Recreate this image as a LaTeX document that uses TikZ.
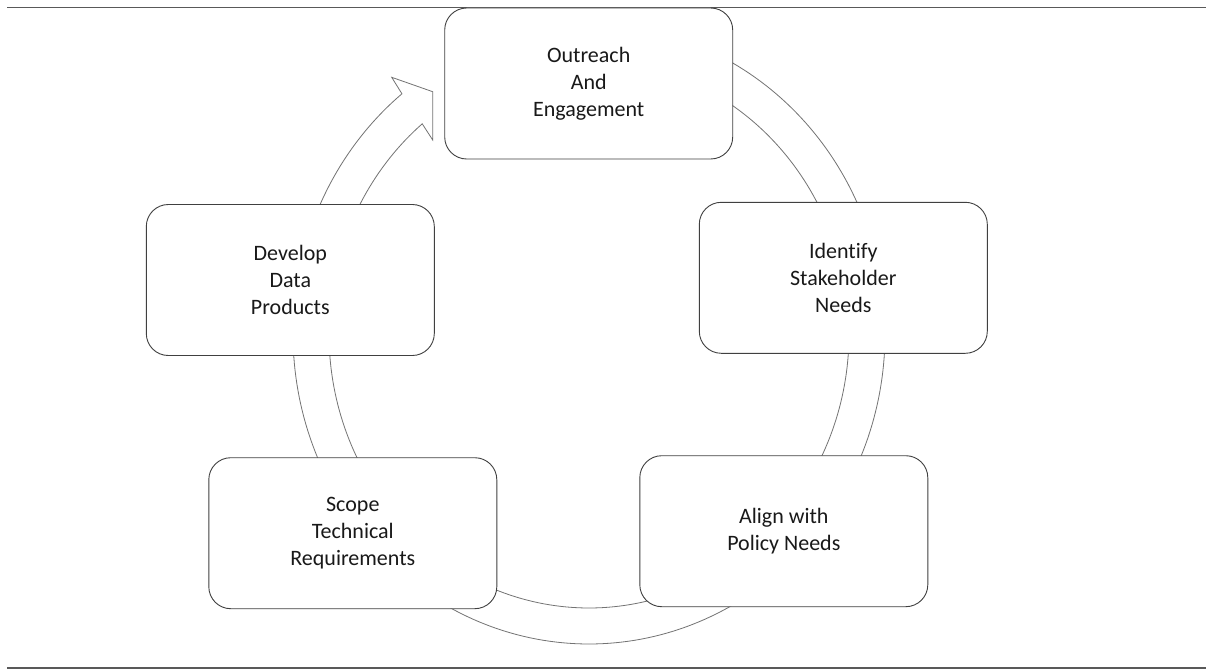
\documentclass[tikz,border=0pt]{standalone}
\usepackage{fontspec}
\setmainfont[Ligatures=NoCommon]{Carlito}
\begin{document}
\begin{tikzpicture}[x=1pt,y=-1pt,
  stage/.style={draw=black!75, line width=0.9pt, fill=white, rounded corners=22pt,
    minimum width=288pt, minimum height=151pt, inner sep=0pt, align=center,
    font=\fontsize{22}{27}\selectfont, text=black!90},
  band/.style={draw=black!55, line width=0.8pt, fill=white},
  rule/.style={draw=black!65, line width=1.4pt}]
\useasboundingbox (0,0) rectangle (1206,669);
% rules
\coordinate (tl) at (7,7.5);
\coordinate (tr) at (1206,7.5);
\coordinate (bl) at (7,668);
\coordinate (br) at (1206,668);
\draw[rule] (tl) -- (tr);
\draw[rule] (bl) -- (br);
% circular band arrow
\draw[band] plot[domain=75:-230.8, samples=240] ({589+296*cos(\x)},{334-310*sin(\x)})
  -- (391.7,77.3) -- (432.7,91.7) -- (432.7,140)
  -- plot[domain=-230.1:75, samples=240] ({589+260*cos(\x)},{334-274*sin(\x)}) -- cycle;
% stages
\node[stage] (outreach) at (588.7,83.5) {Outreach\\And\\Engagement};
\node[stage] (identify) at (843.3,277.8) {Identify\\Stakeholder\\Needs};
\node[stage] (align) at (783.8,531.2) {Align with\\Policy Needs};
\node[stage] (scope) at (352.8,533.2) {Scope\\Technical\\Requirements};
\node[stage] (develop) at (290.3,280) {Develop\\Data\\Products};
\end{tikzpicture}
\end{document}
